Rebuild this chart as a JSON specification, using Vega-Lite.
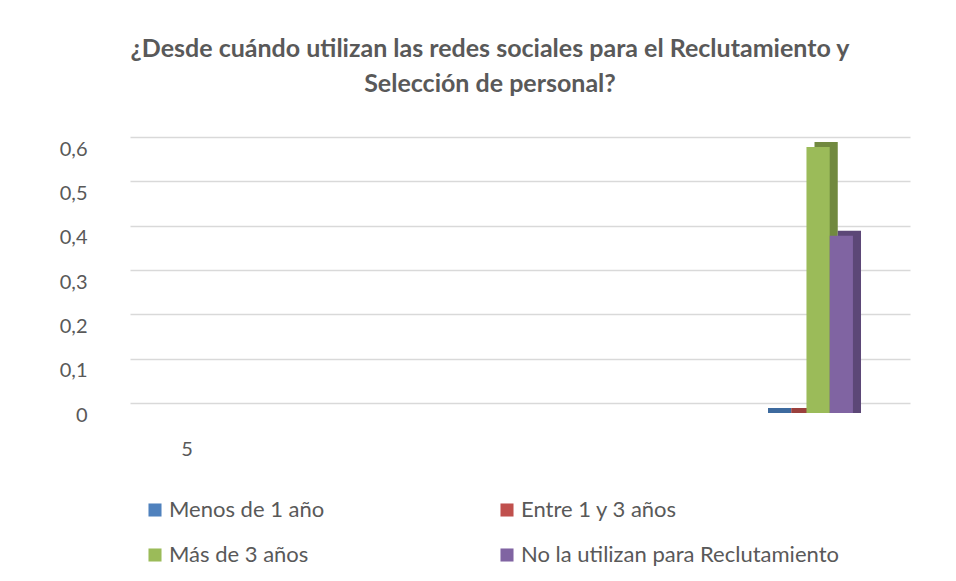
{
  "$schema": "https://vega.github.io/schema/vega-lite/v6.json",
  "autosize": "none",
  "width": 780,
  "height": 266,
  "padding": {"left": 130, "top": 137, "right": 46, "bottom": 178},
  "background": "white",
  "config": {
    "view": {"stroke": null},
    "font": "Lato"
  },
  "title": {
    "text": ["¿Desde cuándo utilizan las redes sociales para el Reclutamiento y", "Selección de personal?"],
    "font": "Lato",
    "fontSize": 25,
    "fontWeight": "bold",
    "color": "#595959",
    "anchor": "middle",
    "dx": -30,
    "offset": 40,
    "lineHeight": 35
  },
  "data": {
    "values": [
      {"categoria": " ", "serie": "Menos de 1 año", "valor": 0},
      {"categoria": " ", "serie": "Entre 1 y 3 años", "valor": 0},
      {"categoria": " ", "serie": "Más de 3 años", "valor": 0.6},
      {"categoria": " ", "serie": "No la utilizan para Reclutamiento", "valor": 0.4}
    ]
  },
  "encoding": {
    "x": {
      "field": "categoria",
      "type": "nominal",
      "scale": {"domain": ["5", " "], "paddingInner": 0.85, "paddingOuter": 0.0545, "align": 0.155},
      "axis": {
        "title": null,
        "domain": false,
        "ticks": false,
        "grid": false,
        "labelAngle": 0,
        "labelFontSize": 20,
        "labelColor": "#595959",
        "labelPadding": 36,
        "labelFont": "Lato"
      }
    },
    "y": {
      "field": "valor",
      "type": "quantitative",
      "stack": null,
      "scale": {"domain": [0, 0.6], "nice": false},
      "axis": {
        "title": null,
        "values": [0, 0.1, 0.2, 0.3, 0.4, 0.5, 0.6],
        "labelExpr": "datum.value == 0 ? '0' : replace(format(datum.value, '.1f'), '.', ',')",
        "domain": false,
        "ticks": false,
        "grid": true,
        "gridColor": "#D9D9D9",
        "gridWidth": 1.5,
        "labelFontSize": 20,
        "labelColor": "#595959",
        "labelPadding": 43,
        "labelOffset": 12,
        "labelFont": "Lato"
      }
    },
    "y2": {"datum": 0}
  },
  "layer": [
    {
      "mark": {"type": "bar", "yOffset": 5, "y2Offset": 10},
      "encoding": {
        "xOffset": {
          "field": "serie",
          "type": "nominal",
          "scale": {"domain": ["Menos de 1 año", "Entre 1 y 3 años", "Más de 3 años", "No la utilizan para Reclutamiento"], "paddingInner": 0, "paddingOuter": 0, "range": [8, 101]}
        },
        "color": {
          "field": "serie",
          "type": "nominal",
          "scale": {"domain": ["Menos de 1 año", "Entre 1 y 3 años", "Más de 3 años", "No la utilizan para Reclutamiento"], "range": ["#3D6A9E", "#9A403D", "#71893F", "#5C4777"]},
          "legend": null
        }
      }
    },
    {
      "mark": {"type": "bar", "yOffset": 10, "y2Offset": 10},
      "encoding": {
        "xOffset": {
          "field": "serie",
          "type": "nominal",
          "scale": {"domain": ["Menos de 1 año", "Entre 1 y 3 años", "Más de 3 años", "No la utilizan para Reclutamiento"], "paddingInner": 0, "paddingOuter": 0}
        },
        "color": {
          "field": "serie",
          "type": "nominal",
          "scale": {"domain": ["Menos de 1 año", "Entre 1 y 3 años", "Más de 3 años", "No la utilizan para Reclutamiento"], "range": ["#4F81BD", "#C0504D", "#9BBB59", "#8064A2"]},
          "legend": {
            "title": null,
            "orient": "none",
            "legendX": 14,
            "legendY": 362,
            "direction": "horizontal",
            "columns": 2,
            "columnPadding": 171,
            "rowPadding": 23,
            "symbolType": "square",
            "symbolSize": 170,
            "symbolStrokeWidth": 0,
            "symbolOpacity": 1,
            "labelFontSize": 22,
            "labelColor": "#595959",
            "labelFont": "Lato",
            "labelOffset": 3,
            "labelLimit": 400
          }
        }
      }
    }
  ],
  "resolve": {"scale": {"color": "independent", "xOffset": "independent"}}
}
